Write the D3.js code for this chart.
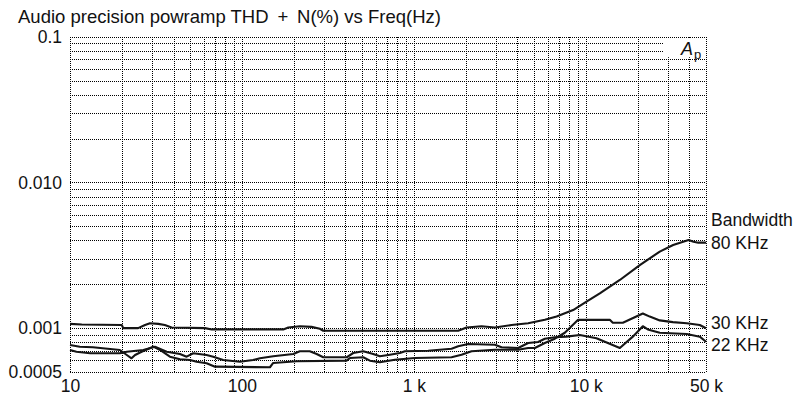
<!DOCTYPE html>
<html><head><meta charset="utf-8">
<script src="https://cdn.jsdelivr.net/npm/d3@7"></script>
<style>
html,body{margin:0;padding:0;background:#fff;}
svg{display:block;font-family:"Liberation Sans",Arial,Helvetica,sans-serif;}
</style></head><body>
<svg id="chart" width="800" height="397"></svg>
<script>
const titleText = "Audio precision powramp THD \u2009+\u2009 N(%) vs Freq(Hz)";
const xTickValues = [10, 100, 1000, 10000, 50000];
const xTickLabels = ["10", "100", "1 k", "10 k", "50 k"];
const yTickValues = [0.1, 0.01, 0.001, 0.0005];
const yTickLabels = ["0.1", "0.010", "0.001", "0.0005"];
const legendTitle = "Bandwidth";
const seriesNames = ["80 KHz", "30 KHz", "22 KHz"];

const bw80Freq = [10, 11.7, 20, 20.4, 24.9, 27.3, 29.2, 32.6, 35.6, 39, 61, 66.7, 174, 186, 217, 254, 284, 297, 1810, 2025, 2475, 2958, 3700, 4620, 5776, 6757, 8440, 10090, 12060, 15770, 20600, 26920, 32200, 39600, 42300, 45100, 50000];
const bw80Thd = [0.00107, 0.00106, 0.00105, 0.001, 0.001, 0.00105, 0.00108, 0.00107, 0.00105, 0.00101, 0.001, 0.00098, 0.00098, 0.00101, 0.00103, 0.00102, 0.00099, 0.00096, 0.00096, 0.00101, 0.00103, 0.00101, 0.00105, 0.00108, 0.00114, 0.0012, 0.00133, 0.00152, 0.00173, 0.00214, 0.00271, 0.00335, 0.00372, 0.00403, 0.00392, 0.00386, 0.00386];

const bw30Freq = [10, 11.4, 13.6, 19.5, 21.4, 22.8, 23.9, 26.1, 30.5, 33.4, 38.1, 43.6, 49.9, 54.5, 62.3, 69.7, 145.5, 152, 208, 406, 425, 507, 555, 634, 775, 1013, 1656, 1893, 2165, 2958, 4040, 4620, 5053, 5776, 6604, 7550, 9020, 13790, 14350, 16420, 21450, 23550, 26920, 32050, 38640, 46000, 50000];
const bw30Thd = [0.000766, 0.000746, 0.000739, 0.000708, 0.000654, 0.000621, 0.000654, 0.000689, 0.000746, 0.000708, 0.000637, 0.000611, 0.000604, 0.000588, 0.000574, 0.000544, 0.000539, 0.000577, 0.000592, 0.000598, 0.000624, 0.000631, 0.000598, 0.000583, 0.000607, 0.000624, 0.000631, 0.000657, 0.000694, 0.000711, 0.000711, 0.00073, 0.00073, 0.000791, 0.000846, 0.00093, 0.00114, 0.00114, 0.00109, 0.00109, 0.00126, 0.0012, 0.00113, 0.0011, 0.00108, 0.00105, 0.000998];

const bw22Freq = [10, 10.9, 13.1, 19.5, 21.4, 26.7, 31.2, 36.5, 43.6, 47.7, 52.1, 62.3, 68.1, 77.8, 97.3, 116, 127.3, 152, 199, 217, 248, 272, 297, 406, 444, 507, 580, 634, 725, 829, 887, 1211, 1656, 1810, 2069, 2958, 3236, 4040, 4620, 5280, 5776, 6604, 7724, 9230, 11530, 15770, 18760, 21450, 22940, 26920, 38640, 46000, 50000];
const bw22Thd = [0.000708, 0.000689, 0.000672, 0.000672, 0.000689, 0.000708, 0.000746, 0.000689, 0.000665, 0.000637, 0.000672, 0.000654, 0.000637, 0.000604, 0.000588, 0.000604, 0.000621, 0.000641, 0.000665, 0.000694, 0.000694, 0.000665, 0.000631, 0.000631, 0.000675, 0.000694, 0.000665, 0.000641, 0.000657, 0.000675, 0.000694, 0.0007, 0.000722, 0.00075, 0.000778, 0.00077, 0.000739, 0.00073, 0.000791, 0.000803, 0.000846, 0.000865, 0.000874, 0.000897, 0.000852, 0.00073, 0.000874, 0.00103, 0.00098, 0.00093, 0.000912, 0.000874, 0.000807];

const series = [
  {name: seriesNames[0], freq: bw80Freq, thd: bw80Thd},
  {name: seriesNames[1], freq: bw30Freq, thd: bw30Thd},
  {name: seriesNames[2], freq: bw22Freq, thd: bw22Thd}
];

const plotL = 70, plotR = 706, plotT = 36.7, plotB = 372;
const svg = d3.select("#chart");
const x = d3.scaleLog().domain([10, 50000]).range([plotL, plotR]);
const y = d3.scaleLog().domain([0.0005, 0.1]).range([plotB, plotT]);

// grid
const gridStyle = g => g.selectAll("line").attr("stroke", "#000").attr("stroke-width", 1)
  .attr("stroke-dasharray", "1,1").attr("shape-rendering", "crispEdges");
const gx = svg.append("g").attr("transform", `translate(0,${plotB})`)
  .call(d3.axisBottom(x).tickValues(x.ticks()).tickSize(-(plotB - plotT)).tickFormat(""));
gx.select(".domain").remove();
gridStyle(gx);
const gy = svg.append("g").attr("transform", `translate(${plotL},0)`)
  .call(d3.axisLeft(y).tickValues(y.ticks()).tickSize(-(plotR - plotL)).tickFormat(""));
gy.select(".domain").remove();
gridStyle(gy);
svg.append("line").attr("x1", plotR).attr("x2", plotR).attr("y1", plotT).attr("y2", plotB)
  .attr("stroke", "#000").attr("stroke-dasharray", "1,1").attr("shape-rendering", "crispEdges");

// A_p box
svg.append("rect").attr("x", 663.5).attr("y", plotT + 1.5).attr("width", plotR - 664.5).attr("height", 19)
  .attr("fill", "#fff");
const ap = svg.append("text").attr("x", 681).attr("y", 55).attr("font-size", 18).attr("fill", "#111");
ap.append("tspan").attr("font-style", "italic").text("A");
ap.append("tspan").attr("font-size", 13).attr("dy", 4).attr("dx", 1).text("p");

// axes labels
const ax = svg.append("g").attr("transform", `translate(0,${plotB})`)
  .call(d3.axisBottom(x).tickValues(xTickValues).tickSize(0).tickPadding(8)
    .tickFormat((d, i) => xTickLabels[i]));
ax.select(".domain").remove();
ax.selectAll("text").attr("font-size", 17.5).attr("fill", "#111").attr("font-family", null);

const ay = svg.append("g").attr("transform", `translate(${plotL},0)`)
  .call(d3.axisLeft(y).tickValues(yTickValues).tickSize(0).tickPadding(8)
    .tickFormat((d, i) => yTickLabels[i]));
ay.select(".domain").remove();
ay.selectAll("text").attr("font-size", 17.5).attr("fill", "#111").attr("font-family", null);

// title
svg.append("text").attr("x", 18).attr("y", 23).attr("font-size", 18.5).attr("fill", "#111").text(titleText);

// lines
const line = d3.line().x(d => x(d[0])).y(d => y(d[1]));
svg.append("g").selectAll("path").data(series).join("path")
  .attr("d", s => line(s.freq.map((f, i) => [f, s.thd[i]])))
  .attr("fill", "none").attr("stroke", "#151515").attr("stroke-width", 2.1)
  .attr("stroke-linejoin", "round");

// right labels
const lab = svg.append("g").attr("font-size", 17.5).attr("fill", "#111");
lab.append("text").attr("x", 711).attr("y", 220).attr("dominant-baseline", "central").text(legendTitle);
const labelY = [y(bw80Thd[bw80Thd.length - 1]), 322.5, 345];
series.forEach((s, i) => {
  lab.append("text").attr("x", 711).attr("y", labelY[i]).attr("dominant-baseline", "central").text(s.name);
});
</script>
</body></html>
